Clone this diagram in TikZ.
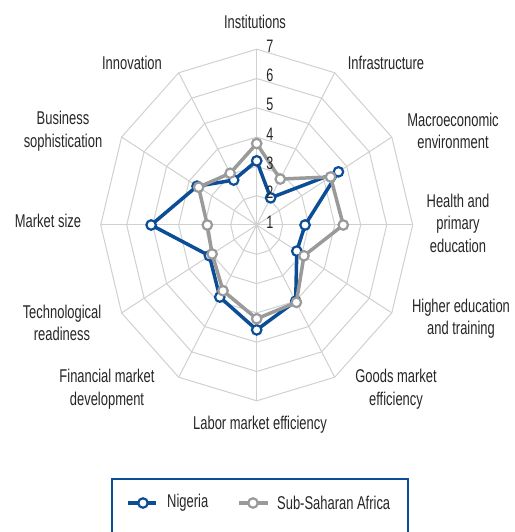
\documentclass[tikz,border=0pt]{standalone}
\usepackage{fontspec}
\setmainfont{Liberation Sans}[FakeStretch=0.70]
\usepackage{tikz}
\definecolor{ngblue}{HTML}{0B4E96}
\definecolor{ssagray}{HTML}{9A9A9A}
\definecolor{gridgray}{HTML}{D0D0D0}
\definecolor{labtext}{HTML}{262626}
\tikzset{
  gridline/.style={draw=gridgray, line width=1pt},
  nigeria/.style={draw=ngblue, line width=3.5pt, line join=round},
  ssa/.style={draw=ssagray, line width=3.5pt, line join=round},
  ngdot/.style={circle, draw=ngblue, fill=white, line width=2.2pt, inner sep=0pt, minimum size=9.5pt},
  ssadot/.style={circle, draw=ssagray, fill=white, line width=2.2pt, inner sep=0pt, minimum size=9.5pt},
  pillar/.style={text=labtext, align=center, font=\fontsize{18.5}{22.5}\selectfont},
  tick/.style={text=labtext, font=\fontsize{18}{18}\selectfont, inner sep=0pt}
}

\begin{document}
\begin{tikzpicture}[x=1pt, y=1pt]
			%%%%% START %%%%%
			\useasboundingbox (-256.7, -307) rectangle (257.3, 225);
			
			\begin{scope}[x=26pt, y=29.3pt]
				% web
				\foreach \k in {1,...,6}
					\draw[gridline] (0:\k) -- (30:\k) -- (60:\k) -- (90:\k) -- (120:\k) -- (150:\k) -- (180:\k)
						-- (210:\k) -- (240:\k) -- (270:\k) -- (300:\k) -- (330:\k) -- cycle;
				\foreach \a in {0,30,...,330}
					\draw[gridline] (0,0) -- (\a:6);
				
				% scores minus 1
				\foreach \v [count=\i] in {2.19,1.07,3.63,1.86,1.78,3.00,3.58,2.84,2.10,4.06,2.65,1.77}
					\coordinate (ng\i) at ({120-30*\i}:\v);
				\foreach \v [count=\i] in {2.78,1.81,3.28,3.33,2.10,3.05,3.20,2.59,1.98,1.90,2.58,2.04}
					\coordinate (ss\i) at ({120-30*\i}:\v);
				
				\draw[nigeria] (ng1) -- (ng2) -- (ng3) -- (ng4) -- (ng5) -- (ng6) -- (ng7) -- (ng8) -- (ng9) -- (ng10) -- (ng11) -- (ng12) -- cycle;
				\foreach \i in {1,...,12}
					\node[ngdot] (ngdot\i) at (ng\i) {};
				
				\draw[ssa] (ss1) -- (ss2) -- (ss3) -- (ss4) -- (ss5) -- (ss6) -- (ss7) -- (ss8) -- (ss9) -- (ss10) -- (ss11) -- (ss12) -- cycle;
				\foreach \i in {1,...,12}
					\node[ssadot] (ssdot\i) at (ss\i) {};
			\end{scope}
			
			% scale
			\foreach \k in {1,...,7}
				\node[tick] (tick\k) at (13.3, {(\k-1)*29.3+3}) {\k};
			
			% pillars
			\node[pillar] (inst) at (-1.7, 203.3) {Institutions};
			\node[pillar] (infra) at (129.3, 161.7) {Infrastructure};
			\node[pillar] (macro) at (196.3, 94) {Macroeconomic\\environment};
			\node[pillar] (health) at (201.3, 2) {Health and\\primary\\education};
			\node[pillar] (higher) at (204.3, -93.5) {Higher education\\and training};
			\node[pillar] (goods) at (139.3, -164) {Goods market\\efficiency};
			\node[pillar] (labor) at (3.3, -200) {Labor market efficiency};
			\node[pillar] (finance) at (-149.7, -164) {Financial market\\development};
			\node[pillar] (tech) at (-194.7, -98) {Technological\\readiness};
			\node[pillar] (msize) at (-208.7, 4) {Market size};
			\node[pillar] (business) at (-193.7, 94) {Business\\sophistication};
			\node[pillar] (innov) at (-124.7, 161.7) {Innovation};
			
			% legend
			\draw[draw=ngblue, line width=1.5pt] (-144.7, -310) -- (-144.7, -254) -- (151.3, -254) -- (151.3, -310);
			\draw[nigeria] (-128.7, -278) -- (-100.7, -278);
			\node[ngdot] (legng) at (-113.7, -278) {};
			\node[pillar, anchor=west, inner sep=0pt] (legngtext) at (-89.7, -278) {Nigeria};
			\draw[ssa] (-17.7, -278) -- (11.3, -278);
			\node[ssadot] (legss) at (-3.7, -278) {};
			\node[pillar, anchor=west, inner sep=0pt] (legsstext) at (20.3, -278) {Sub-Saharan Africa};
			
			%%%%% END %%%%%
\end{tikzpicture}
\end{document}
